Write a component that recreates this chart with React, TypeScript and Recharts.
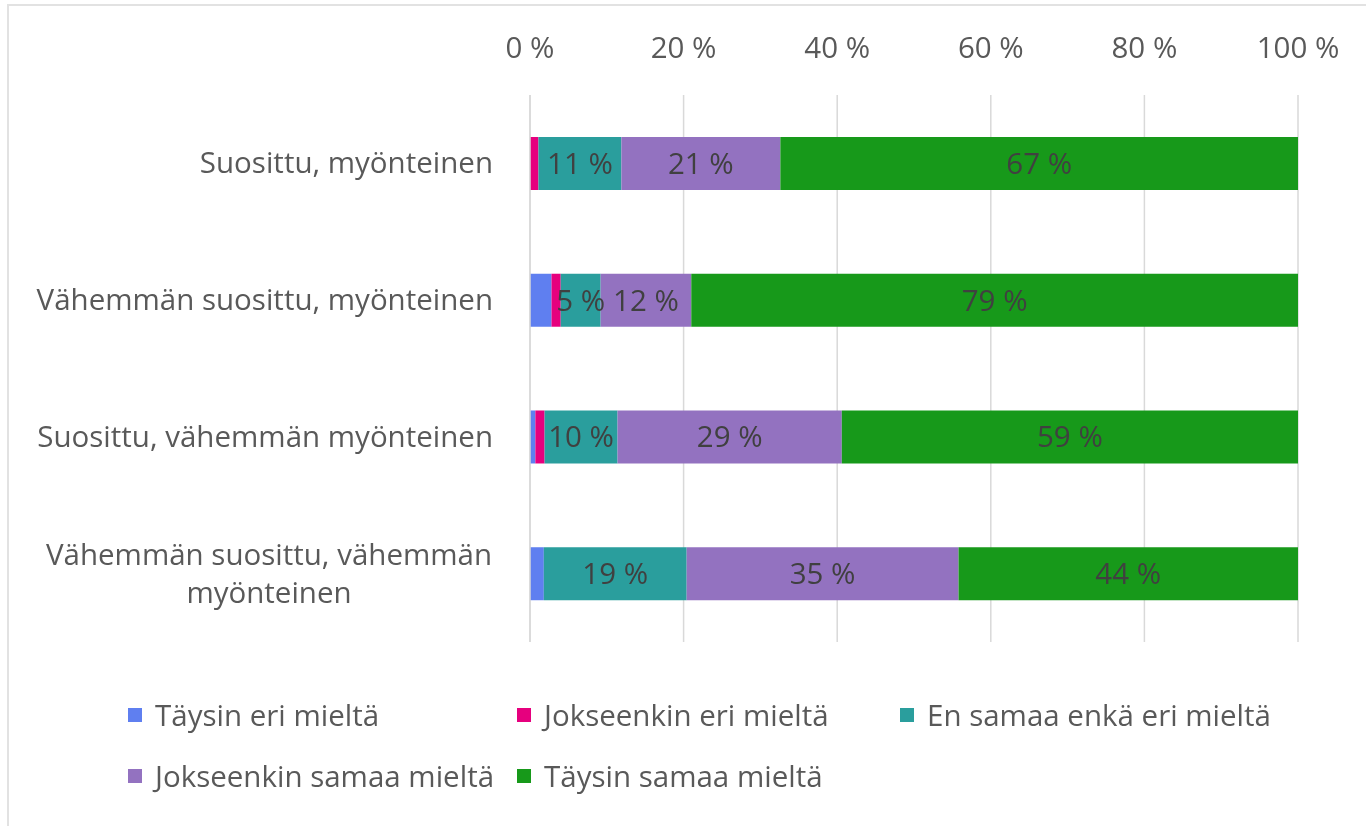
import { Bar, BarChart, CartesianGrid, LabelList, XAxis, YAxis } from "recharts";

const categories = [
  ["Suosittu, myönteinen"],
  ["Vähemmän suosittu, myönteinen"],
  ["Suosittu, vähemmän myönteinen"],
  ["Vähemmän suosittu, vähemmän", "myönteinen"],
];

const seriesNames = [
  "Täysin eri mieltä",
  "Jokseenkin eri mieltä",
  "En samaa enkä eri mieltä",
  "Jokseenkin samaa mieltä",
  "Täysin samaa mieltä",
];
const seriesColors = ["#5f7ff0", "#e6007e", "#2a9e9d", "#9372c0", "#17991a"];

const taysinEri = [0, 2.8, 0.7, 1.8];
const jokseenkinEri = [1.1, 1.2, 1.2, 0];
const enSamaa = [10.8, 5.2, 9.5, 18.6];
const jokseenkinSamaa = [20.7, 11.8, 29.2, 35.4];
const taysinSamaa = [67.4, 79.0, 59.4, 44.2];

const xTicks = [0, 20, 40, 60, 80, 100];

const seriesValues = [taysinEri, jokseenkinEri, enSamaa, jokseenkinSamaa, taysinSamaa];
const labelled = [false, false, true, true, true];

const data = categories.map((lines, i) => {
  const row: Record<string, any> = { name: lines.join(" "), lines };
  seriesValues.forEach((vals, s) => {
    row["s" + s] = vals[i];
  });
  return row;
});

const FONT = "'Open Sans', sans-serif";
const FS = 29.5;

function CategoryTick(props: any) {
  const { x, y, payload } = props;
  const lines: string[] = categories[payload.index] ?? [payload.value];
  if (lines.length === 1) {
    return (
      <text x={x} y={y} dy={10} textAnchor="end" fill="#595959" fontSize={FS} fontFamily={FONT}>
        {lines[0]}
      </text>
    );
  }
  return (
    <text x={x - 224} y={y} textAnchor="middle" fill="#595959" fontSize={FS} fontFamily={FONT}>
      <tspan x={x - 224} dy={-9}>{lines[0]}</tspan>
      <tspan x={x - 224} dy={38}>{lines[1]}</tspan>
    </text>
  );
}

export default function App() {
  return (
    <div style={{ position: "relative", width: 1358, height: 810, fontFamily: FONT }}>
      <div
        style={{
          position: "fixed",
          left: 7,
          top: 4,
          right: -10,
          bottom: -10,
          borderTop: "2px solid #e2e2e2",
          borderLeft: "2px solid #e2e2e2",
          pointerEvents: "none",
        }}
      />
      <BarChart
        width={1358}
        height={680}
        data={data}
        layout="vertical"
        barCategoryGap="30.7%"
        margin={{ top: 47, right: 68, bottom: 46, left: 0 }}
      >
        <CartesianGrid horizontal={false} stroke="#d9d9d9" strokeWidth={1.5} />
        <XAxis
          type="number"
          orientation="top"
          domain={[0, 100]}
          ticks={xTicks}
          tickFormatter={(v: number) => `${v} %`}
          axisLine={false}
          tickLine={false}
          tickSize={0}
          tickMargin={37}
          height={40}
          tick={{ fill: "#595959", fontSize: FS, fontFamily: FONT }}
        />
        <YAxis
          type="category"
          dataKey="name"
          width={522}
          axisLine={{ stroke: "#d9d9d9", strokeWidth: 1.5 }}
          tickLine={false}
          tickSize={0}
          tickMargin={37}
          interval={0}
          tick={<CategoryTick />}
        />
        {seriesNames.map((name, s) => (
          <Bar
            key={name}
            dataKey={"s" + s}
            name={name}
            stackId="a"
            fill={seriesColors[s]}
            isAnimationActive={false}
          >
            {labelled[s] && (
              <LabelList
                dataKey={"s" + s}
                position="center"
                formatter={(v: any) => `${Math.round(Number(v))} %`}
                fill="#404040"
                fontSize={FS}
                fontFamily={FONT}
              />
            )}
          </Bar>
        ))}
      </BarChart>
      <div
        style={{
          position: "absolute",
          left: 120,
          top: 676,
          display: "grid",
          gridTemplateColumns: "389px 383px auto",
          gridAutoRows: "61px",
          alignItems: "center",
          color: "#595959",
          fontSize: FS,
        }}
      >
        {seriesNames.map((name, s) => (
          <div key={name} style={{ display: "flex", alignItems: "center", whiteSpace: "nowrap" }}>
            <span
              style={{
                display: "inline-block",
                width: 14,
                height: 14,
                background: seriesColors[s],
                marginRight: 13,
              }}
            />
            {name}
          </div>
        ))}
      </div>
    </div>
  );
}
